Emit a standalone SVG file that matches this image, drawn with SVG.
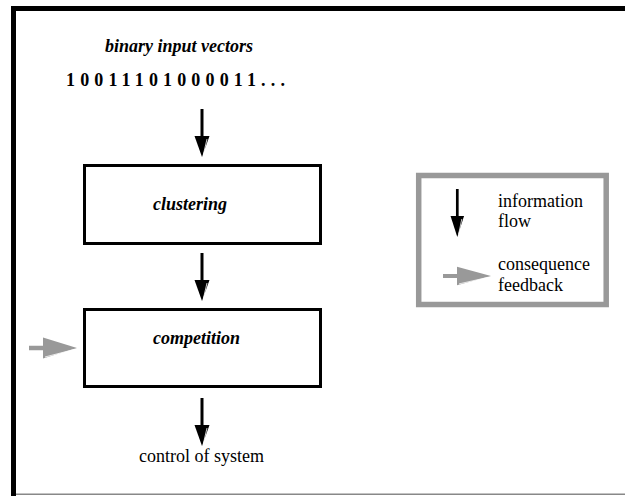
<svg xmlns="http://www.w3.org/2000/svg" width="625" height="496" viewBox="0 0 625 496">
<style>
text{font-family:'Liberation Serif','Times New Roman',serif;font-size:18px;fill:#000}
.bi{font-weight:bold;font-style:italic}
.b{font-weight:bold}
.box{fill:#fff;stroke:#000;stroke-width:3}
</style>
<defs>
<g id="down">
<line x1="0" y1="0" x2="0" y2="29" stroke="#000" stroke-width="3"/>
<polygon points="-7.5,27 7.5,27 0,48" fill="#000"/>
<line x1="1.5" y1="45" x2="5" y2="30" stroke="#fff" stroke-width="0.8"/>
</g>
<g id="right">
<line x1="0" y1="0" x2="15" y2="0" stroke="#999" stroke-width="4.5"/>
<polygon points="14,-10.5 14,10.5 48,0" fill="#999"/>
<line x1="16" y1="9" x2="45" y2="1.5" stroke="#fff" stroke-width="0.8"/>
</g>
</defs>
<rect width="625" height="496" fill="#fff"/>
<g id="frame">
<rect x="11" y="6" width="614" height="5" fill="#000"/>
<rect x="11" y="6" width="5" height="490" fill="#000"/>
<rect x="16" y="493.5" width="609" height="1.5" fill="#888"/>
</g>
<g id="input">
<text class="bi" x="105" y="52" font-size="16.5">binary input vectors</text>
<text class="b" x="66" y="86" font-size="16" letter-spacing="5.15">10011101000011...</text>
</g>
<g id="clustering">
<rect class="box" x="84.5" y="165.5" width="236" height="78"/>
<text class="bi" x="153" y="210">clustering</text>
</g>
<g id="competition">
<rect class="box" x="84.5" y="309.5" width="236" height="77"/>
<text class="bi" x="153" y="344">competition</text>
</g>
<g id="output">
<text x="139" y="462">control of system</text>
</g>
<g id="legend">
<rect x="418.7" y="175.5" width="187.5" height="129" fill="#fff" stroke="#999" stroke-width="5.5"/>
<use href="#down" transform="translate(457.3,189) scale(0.9,1)"/>
<text x="498" y="207">information</text>
<text x="498" y="227">flow</text>
<use href="#right" transform="translate(443,276) scale(1,0.88)"/>
<text x="498" y="270">consequence</text>
<text x="498" y="291">feedback</text>
</g>
<g id="connectors">
<use href="#down" transform="translate(202,109)"/>
<use href="#down" transform="translate(202,253)"/>
<use href="#down" transform="translate(202,398)"/>
<use href="#right" transform="translate(29,348)"/>
</g>
</svg>
